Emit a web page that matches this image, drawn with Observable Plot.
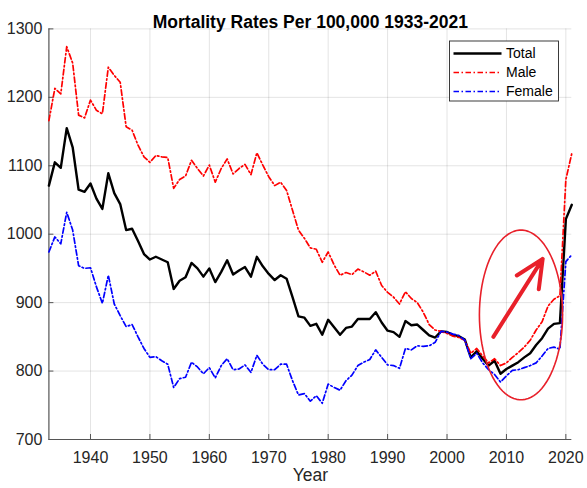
<!DOCTYPE html>
<html>
<head>
<meta charset="utf-8">
<script src="https://cdn.jsdelivr.net/npm/d3@7"></script>
<script src="https://cdn.jsdelivr.net/npm/@observablehq/plot@0.6"></script>
<style>
  html, body { margin: 0; padding: 0; background: #fff; }
  #chart { width: 587px; height: 488px; }
  svg { overflow: visible; }
</style>
</head>
<body>
<div id="chart"></div>
<script>
const years = d3.range(1933, 2022);
const total = [1071,1105,1097,1155,1127,1065,1062,1074,1052,1037,1089,1060,1044,1006,1008,990,971,963,967,963,959,920,932,937,958,950,938,950,930,945,962,941,947,952,938,967,953,942,933,940,935,908,880,878,866,869,853,875,864,853,863,865,876,876,876,886,871,859,857,850,873,867,868,860,852,849,858,857,853,851,846,820,829,818,808,815,796,803,808,813,820,826,838,848,862,869,870,1022,1043];
const male = [1166,1213,1205,1274,1250,1174,1170,1196,1181,1176,1244,1232,1222,1157,1152,1130,1113,1105,1115,1113,1112,1067,1080,1085,1108,1096,1085,1101,1076,1096,1110,1088,1096,1102,1087,1119,1101,1084,1071,1076,1064,1035,1006,994,980,978,959,974,955,940,944,941,949,945,940,946,925,915,908,898,916,906,900,886,868,860,858,855,851,849,845,826,833,822,812,818,808,812,820,827,835,845,860,872,895,905,910,1080,1118];
const female = [974,996,986,1032,1006,954,950,951,923,899,940,898,881,865,868,850,833,820,821,815,810,776,789,791,813,806,796,805,790,808,818,802,803,809,798,823,810,802,802,810,810,786,765,767,756,764,753,781,776,772,786,794,808,813,817,831,820,809,808,804,833,831,837,836,837,842,858,857,854,852,845,818,826,812,802,795,784,793,801,802,805,808,812,822,833,835,832,960,970];

const seriesNames = ["Total", "Male", "Female"];
const seriesColors = ["#000000", "#ff0000", "#0000ff"];
const seriesValues = [total, male, female];
const xTicks = [1940, 1950, 1960, 1970, 1980, 1990, 2000, 2010, 2020];
const yTicks = [700, 800, 900, 1000, 1100, 1200, 1300];
const titleText = "Mortality Rates Per 100,000 1933-2021";
const xLabel = "Year";

// annotation (drawn in data space)
const ellipseCenter = [2012.45, 882];
const ellipseRadii = [7.0, 124];
const arrowFrom = [2007.8, 850];
const arrowTo = [2016.1, 964];

const rows = seriesNames.flatMap((name, s) =>
  years.map((year, i) => ({series: name, year, value: seriesValues[s][i]})));

const ellipsePts = d3.range(0, 361, 4).map(a => ({
  x: ellipseCenter[0] + ellipseRadii[0] * Math.cos(a * Math.PI / 180),
  y: ellipseCenter[1] + ellipseRadii[1] * Math.sin(a * Math.PI / 180)
}));

const W = 587, H = 488;
const mL = 48.4, mR = 15.7, mT = 28.4, mB = 49;
const plotW = W - mL - mR, plotH = H - mT - mB;
const dash = "5.5,2.5,1.5,2.5";
const axisColor = "#262626";

const lineFor = (name, i, opts) => Plot.line(rows.filter(d => d.series === name), {
  x: "year", y: "value", stroke: seriesColors[i], ...opts
});

const chart = Plot.plot({
  width: W, height: H,
  marginLeft: mL, marginRight: mR, marginTop: mT, marginBottom: mB,
  style: {fontFamily: "'Liberation Sans', Arial, sans-serif", fontSize: "16px", background: "#fff"},
  x: {domain: [1933, 2021]},
  y: {domain: [700, 1300]},
  marks: [
    Plot.gridX(xTicks, {stroke: "#000", strokeOpacity: 0.11}),
    Plot.gridY(yTicks, {stroke: "#000", strokeOpacity: 0.11}),
    Plot.axisX(xTicks, {tickSize: 0, tickPadding: 12, tickFormat: "d", fill: axisColor, label: null, fontSize: 16}),
    Plot.axisY(yTicks, {tickSize: 0, tickPadding: 6.5, tickFormat: "d", fill: axisColor, label: null, fontSize: 16}),
    Plot.tickY(yTicks, {y: d => d, stroke: "#555", insetRight: plotW - 5}),
    Plot.tickX(xTicks, {x: d => d, stroke: "#555", insetTop: plotH - 5}),
    Plot.ruleX([1933], {stroke: "#555", strokeWidth: 1.2}),
    Plot.ruleY([700], {stroke: "#555", strokeWidth: 1.2}),
    lineFor("Total", 0, {strokeWidth: 2.4}),
    lineFor("Male", 1, {strokeWidth: 1.7, strokeDasharray: dash}),
    lineFor("Female", 2, {strokeWidth: 1.7, strokeDasharray: dash}),
    Plot.line(ellipsePts, {x: "x", y: "y", stroke: "#e8202a", strokeWidth: 1.6, curve: "linear-closed"}),
    Plot.arrow([{x1: arrowFrom[0], y1: arrowFrom[1], x2: arrowTo[0], y2: arrowTo[1]}], {
      x1: "x1", y1: "y1", x2: "x2", y2: "y2", stroke: "#e8202a", strokeWidth: 4, headLength: 13, headAngle: 50
    }),
    Plot.text([titleText], {text: d => d, frameAnchor: "top", dy: -13.5, fontSize: 17.5, fontWeight: "bold", fill: "#000"}),
    Plot.text([xLabel], {text: d => d, frameAnchor: "bottom", dy: 41, fontSize: 17.5, fill: axisColor})
  ]
});

// legend box (inside the axes, top-right)
const svg = d3.select(chart);
const lg = svg.append("g").attr("transform", "translate(449.5,41)");
lg.append("rect").attr("width", 109).attr("height", 60)
  .attr("fill", "#fff").attr("stroke", "#262626").attr("stroke-width", 0.9);
seriesNames.forEach((name, i) => {
  const y = 12.5 + i * 19;
  lg.append("line").attr("x1", 4).attr("x2", 52).attr("y1", y).attr("y2", y)
    .attr("stroke", seriesColors[i]).attr("stroke-width", i === 0 ? 2.4 : 1.7)
    .attr("stroke-dasharray", i === 0 ? null : dash);
  lg.append("text").attr("x", 56.5).attr("y", y).attr("dy", "0.35em")
    .attr("text-anchor", "start")
    .attr("font-size", 14).attr("fill", "#000").text(name);
});

document.getElementById("chart").appendChild(chart);
</script>
</body>
</html>
